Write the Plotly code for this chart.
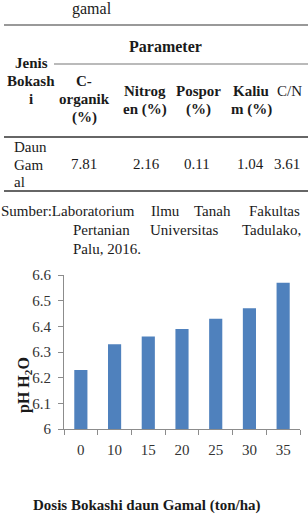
import plotly.graph_objects as go

# ---------------- data ----------------
doses = ["0", "10", "15", "20", "25", "30", "35"]
ph_values = [6.23, 6.33, 6.36, 6.39, 6.43, 6.47, 6.57]
y_ticks = [6.0, 6.1, 6.2, 6.3, 6.4, 6.5, 6.6]
y_tick_labels = ["6", "6.1", "6.2", "6.3", "6.4", "6.5", "6.6"]

table_caption = "gamal"
table_group_header = "Parameter"
table_row_header = ["Jenis", "Bokash", "i"]
table_col_headers = [["C-", "organik", "(%)"], ["Nitrog", "en (%)"], ["Pospor", "(%)"],
                     ["Kaliu", "m (%)"], ["C/N"]]
table_row_label = ["Daun", "Gam", "al"]
table_row_values = ["7.81", "2.16", "0.11", "1.04", "3.61"]
source_line1 = ["Sumber:Laboratorium", "Ilmu", "Tanah", "Fakultas"]
source_line2 = ["Pertanian", "Universitas", "Tadulako,"]
source_line3 = "Palu, 2016."

x_title = "Dosis Bokashi daun Gamal (ton/ha)"
y_title = "pH H<sub>2</sub>O"

# ---------------- layout geometry ----------------
W, H = 308, 532
ML, MR, MT, MB = 64, 8, 275, 103
PW, PH = W - ML - MR, H - MT - MB


def px(x):
    return (x - ML) / PW


def py(y):
    return (H - MB - y) / PH


FONT = "Liberation Serif"
TXT = "#1a1a1a"

fig = go.Figure()
fig.add_trace(go.Bar(x=doses, y=ph_values, marker=dict(color="#4F81BD", line=dict(width=0))))

annotations = []
shapes = []


def text(s, x, y, size=15, bold=False, anchor="center", color=TXT):
    annotations.append(dict(
        text=f"<b>{s}</b>" if bold else s, x=px(x), y=py(y), xref="paper", yref="paper",
        xanchor=anchor, yanchor="middle", showarrow=False, borderpad=0,
        font=dict(family=FONT, size=size, color=color)))


def hline(x0, x1, y, color="#444", width=1.5):
    shapes.append(dict(type="line", xref="paper", yref="paper",
                       x0=px(x0), x1=px(x1), y0=py(y), y1=py(y),
                       line=dict(color=color, width=width)))


# table
text(table_caption, 92, 9, size=16)
hline(4, 308, 25, color="#777", width=1.5)
text(table_group_header, 165, 46, bold=True, size=16)
hline(54, 308, 64, color="#777", width=1.2)
for i, s in enumerate(table_row_header):
    text(s, 31, 63 + 18 * i, bold=True)
col_x = [84, 145, 198, 251, 289]
col_y0 = [81, 91, 91, 91, 91]
for j, lines in enumerate(table_col_headers):
    for i, s in enumerate(lines):
        text(s, col_x[j], col_y0[j] + 18 * i, bold=(j < 4))
hline(4, 308, 137, color="#333", width=1.5)
for i, s in enumerate(table_row_label):
    text(s, 13, 147 + 17.5 * i, anchor="left")
val_x = [84, 146, 197, 250, 287]
for j, s in enumerate(table_row_values):
    text(s, val_x[j], 164, anchor="center")
hline(4, 308, 191, color="#333", width=1.5)

# source note (justified words)
s1_x = [(0, "left"), (150, "left"), (193, "left"), (301, "right")]
for (x, a), s in zip(s1_x, source_line1):
    text(s, x, 211, anchor=a)
s2_x = [(72, "left"), (149, "left"), (302, "right")]
for (x, a), s in zip(s2_x, source_line2):
    text(s, x, 230, anchor=a)
text(source_line3, 72, 249, anchor="left")

# axis titles
text(x_title, 147, 505, bold=True)
annotations.append(dict(
    text=f"<b>{y_title}</b>", x=px(24), y=py(385), xref="paper", yref="paper",
    xanchor="center", yanchor="middle", textangle=-90, showarrow=False, borderpad=0,
    font=dict(family=FONT, size=16, color=TXT)))

fig.update_layout(
    width=W, height=H,
    margin=dict(l=ML, r=MR, t=MT, b=MB, pad=0),
    paper_bgcolor="white", plot_bgcolor="white",
    showlegend=False, bargap=0.61,
    annotations=annotations, shapes=shapes,
    font=dict(family=FONT, size=15, color="#333"),
)
fig.update_xaxes(
    type="category", showline=True, linecolor="#8c8c8c", linewidth=1,
    ticks="outside", tickson="boundaries", ticklen=5, tickcolor="#8c8c8c",
    showgrid=False, tickfont=dict(family=FONT, size=15, color="#333"), ticklabelstandoff=7,
)
fig.update_yaxes(
    range=[6, 6.6], tickvals=y_ticks, ticktext=y_tick_labels,
    showline=True, linecolor="#8c8c8c", linewidth=1,
    ticks="outside", ticklen=5, tickcolor="#8c8c8c", showgrid=False, zeroline=False,
    tickfont=dict(family=FONT, size=15, color="#333"), ticklabelstandoff=4,
)

fig.write_html("out.html")
